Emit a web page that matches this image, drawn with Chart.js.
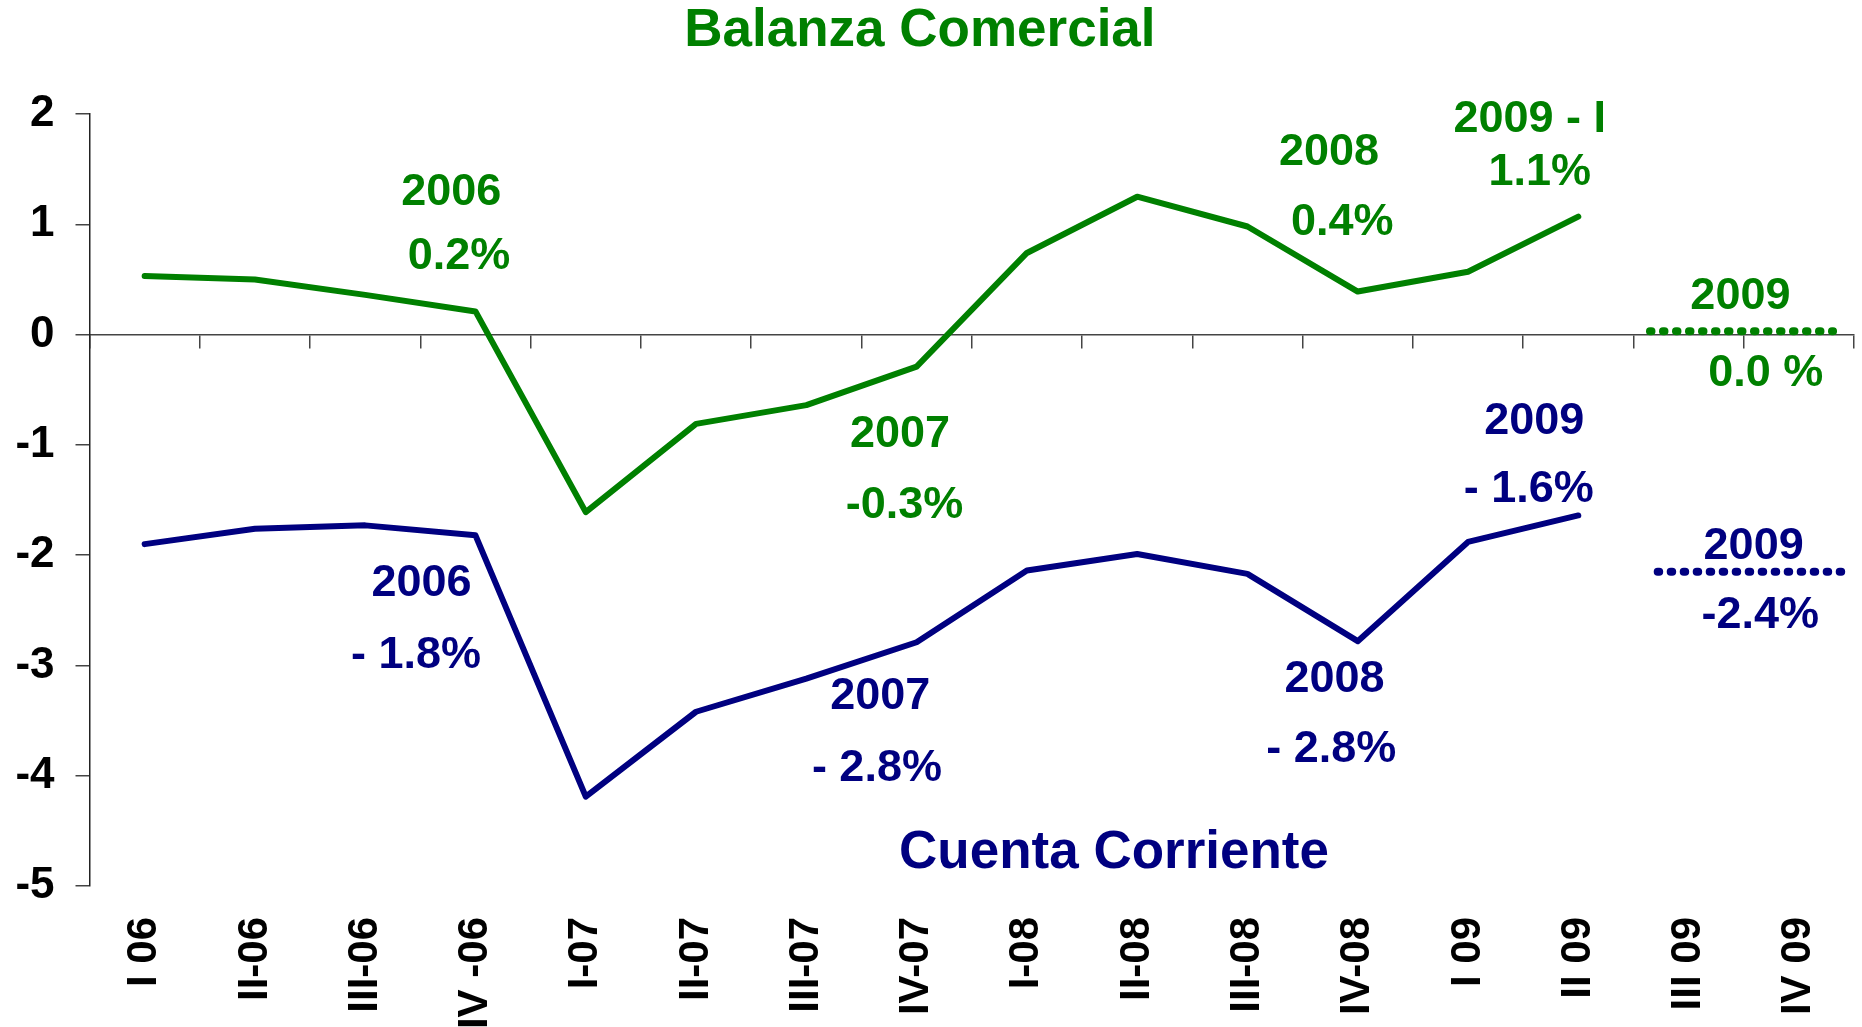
<!DOCTYPE html>
<html>
<head>
<meta charset="utf-8">
<script src="https://cdn.jsdelivr.net/npm/chart.js@4/dist/chart.umd.min.js"></script>
<style>
  html, body { margin:0; padding:0; background:#fff; overflow:hidden; }
  #wrap { width:1862px; height:1027px; }
</style>
</head>
<body>
<div id="wrap"><canvas id="chart-balanza" width="1862" height="1027"></canvas></div>
<script>
/* ── Datos (% del PIB, trimestral) ── */
var TRIMESTRES = ['I 06','II-06','III-06','IV -06','I-07','II-07','III-07','IV-07',
                  'I-08','II-08','III-08','IV-08','I 09','II 09','III 09','IV 09'];
var BALANZA_COMERCIAL = [0.53, 0.50, 0.36, 0.21, -1.61, -0.81, -0.64, -0.29,
                         0.74, 1.25, 0.98, 0.39, 0.57, 1.07, null, null];
var CUENTA_CORRIENTE  = [-1.90, -1.76, -1.73, -1.82, -4.19, -3.42, -3.12, -2.79,
                         -2.14, -1.99, -2.17, -2.78, -1.88, -1.64, null, null];
var Y_TICKS = [2, 1, 0, -1, -2, -3, -4, -5];

// proyección 2009 (tramo punteado sobre III 09 - IV 09, en unidades de trimestre)
var PROY_BALANZA_X = [13.65, 15.31];
var PROY_BALANZA_Y = [0.03, 0.03];
var PROY_CUENTA_X  = [13.72, 15.39];
var PROY_CUENTA_Y  = [-2.15, -2.15];

var VERDE = '#008000';
var AZUL  = '#000080';
var FONT  = '"Liberation Sans", Arial, Helvetica, sans-serif';

/* ── Textos sobre el gráfico (anclados a las escalas) ── */
var NOTAS = [
  { t:'Balanza Comercial', x:7.03,  y:2.747,  c:VERDE, s:53 },
  { t:'2006',     x:2.78,  y:1.291,  c:VERDE, s:45 },
  { t:'0.2%',     x:2.85,  y:0.710,  c:VERDE, s:45 },
  { t:'2007',     x:6.85,  y:-0.907, c:VERDE, s:45 },
  { t:'-0.3%',    x:6.89,  y:-1.554, c:VERDE, s:45 },
  { t:'2008',     x:10.74, y:1.649,  c:VERDE, s:45 },
  { t:'0.4%',     x:10.86, y:1.014,  c:VERDE, s:45 },
  { t:'2009 - I', x:12.56, y:1.948,  c:VERDE, s:45 },
  { t:'1.1%',     x:12.65, y:1.467,  c:VERDE, s:45 },
  { t:'2009',     x:14.47, y:0.342,  c:VERDE, s:45 },
  { t:'0.0 %',    x:14.70, y:-0.357, c:VERDE, s:45 },
  { t:'2006',     x:2.51,  y:-2.262, c:AZUL,  s:45 },
  { t:'- 1.8%',   x:2.46,  y:-2.911, c:AZUL,  s:45 },
  { t:'2007',     x:6.67,  y:-3.279, c:AZUL,  s:45 },
  { t:'- 2.8%',   x:6.64,  y:-3.932, c:AZUL,  s:45 },
  { t:'2008',     x:10.79, y:-3.124, c:AZUL,  s:45 },
  { t:'- 2.8%',   x:10.76, y:-3.759, c:AZUL,  s:45 },
  { t:'2009',     x:12.60, y:-0.789, c:AZUL,  s:45 },
  { t:'- 1.6%',   x:12.55, y:-1.409, c:AZUL,  s:45 },
  { t:'2009',     x:14.59, y:-1.924, c:AZUL,  s:45 },
  { t:'-2.4%',    x:14.65, y:-2.544, c:AZUL,  s:45 },
  { t:'Cuenta Corriente', x:8.79, y:-4.700, c:AZUL, s:53 }
];

var notasPlugin = {
  id: 'notas',
  afterDraw: function(chart) {
    var ctx = chart.ctx;
    var xs = chart.scales.xf, ys = chart.scales.y;
    ctx.save();
    ctx.textAlign = 'center';
    ctx.textBaseline = 'middle';
    NOTAS.forEach(function(n) {
      ctx.font = 'bold ' + n.s + 'px ' + FONT;
      ctx.fillStyle = n.c;
      ctx.fillText(n.t, xs.getPixelForValue(n.x), ys.getPixelForValue(n.y));
    });
    ctx.restore();
  }
};

function puntos(xs, ys) {
  return xs.map(function(x, i) { return { x:x, y:ys[i] }; });
}

new Chart(document.getElementById('chart-balanza').getContext('2d'), {
  type: 'line',
  data: {
    labels: TRIMESTRES,
    datasets: [
      { label:'Balanza Comercial', data:BALANZA_COMERCIAL, xAxisID:'x', borderColor:VERDE, borderWidth:6,
        pointRadius:0, tension:0, borderCapStyle:'round', borderJoinStyle:'round', fill:false },
      { label:'Cuenta Corriente', data:CUENTA_CORRIENTE, xAxisID:'x', borderColor:AZUL, borderWidth:6,
        pointRadius:0, tension:0, borderCapStyle:'round', borderJoinStyle:'round', fill:false },
      { label:'Balanza 2009', data:puntos(PROY_BALANZA_X, PROY_BALANZA_Y), xAxisID:'xf', borderColor:VERDE,
        borderWidth:8, borderDash:[1.5, 11.5], borderCapStyle:'round', pointRadius:0, fill:false },
      { label:'Cuenta 2009', data:puntos(PROY_CUENTA_X, PROY_CUENTA_Y), xAxisID:'xf', borderColor:AZUL,
        borderWidth:8, borderDash:[1.5, 11.5], borderCapStyle:'round', pointRadius:0, fill:false }
    ]
  },
  options: {
    responsive:false,
    animation:false,
    events:[],
    layout:{ padding:{ top:114, right:8, left:0, bottom:0 } },
    plugins:{ legend:{ display:false }, tooltip:{ enabled:false }, title:{ display:false } },
    scales:{
      x:{
        type:'category', position:'bottom', offset:true,
        grid:{ display:false, drawTicks:false },
        border:{ display:false },
        ticks:{ minRotation:90, maxRotation:90, autoSkip:false, padding:31, color:'#000',
                font:{ family:FONT, size:42, weight:'bold' } },
        afterFit:function(s) { s.height = 141; s.paddingLeft = 0; s.paddingRight = 0; }
      },
      xz:{
        type:'category', position:{ y:0 }, offset:true, labels:TRIMESTRES,
        grid:{ display:true, offset:true, drawOnChartArea:false, drawTicks:true, tickLength:13, color:'#444', lineWidth:1.5 },
        border:{ display:true, color:'#444', width:1.5 },
        ticks:{ display:false }
      },
      xf:{
        type:'linear', display:false, min:-0.5, max:15.5
      },
      y:{
        type:'linear', position:'left', min:-5, max:2,
        afterBuildTicks:function(s) { s.ticks = Y_TICKS.map(function(v) { return { value:v }; }); },
        grid:{ display:true, drawOnChartArea:false, drawTicks:true, tickLength:14, color:'#444', lineWidth:1.5 },
        border:{ display:true, color:'#222', width:1.5 },
        ticks:{ padding:21, color:'#000', font:{ family:FONT, size:44, weight:'bold' } },
        afterFit:function(s) { s.width = 89.5; }
      }
    }
  },
  plugins:[notasPlugin]
});
</script>
</body>
</html>
